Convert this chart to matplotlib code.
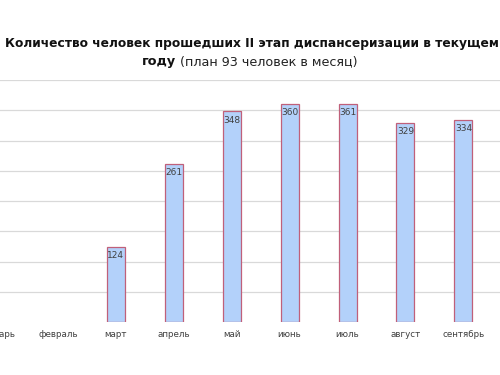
import matplotlib
matplotlib.use("Agg")
import matplotlib.pyplot as plt
import numpy as np

# ── Data ─────────────────────────────────────────────────────────────────────
months = ["январь", "февраль", "март", "апрель", "май", "июнь",
          "июль", "август", "сентябрь"]
passed = [0, 0, 124, 261, 348, 360, 361, 329, 334]
y_ticks = [50, 100, 150, 200, 250, 300, 350, 400]

BAR_FACE = "#b3d1fa"
BAR_EDGE = "#c0607a"
GRID = "#d9d9d9"
TEXT = "#404040"

plt.rcParams["font.family"] = ["DejaVu Sans"]

fig = plt.figure(figsize=(5, 3.75), dpi=100)
ax = fig.add_axes([0.0, 1 - 322 / 375, 1.0, (322 - 80) / 375])

x = np.arange(len(months))
vals = np.array(passed)
nz = vals > 0  # empty months have no bar drawn
ax.bar(x[nz], vals[nz], width=0.31, color=BAR_FACE, edgecolor=BAR_EDGE,
       linewidth=0.9, zorder=2)

for xi, v in zip(x[nz], vals[nz]):
    ax.annotate(f"{v}", (xi, v), xytext=(0, -3), textcoords="offset points",
                ha="center", va="top", fontsize=6.5, color=TEXT, zorder=3)

for yv in y_ticks:
    ax.axhline(yv, color=GRID, linewidth=0.9, zorder=1)

ax.set_ylim(0, 400)
ax.set_xlim(5 / 58.5, 5 / 58.5 + 500 / 58.5)
ax.set_xticks(x)
ax.set_xticklabels(months, fontsize=6.3, color=TEXT)
ax.tick_params(axis="x", length=0, pad=6)
ax.set_yticks([])
for s in ax.spines.values():
    s.set_visible(False)

# ── Title ────────────────────────────────────────────────────────────────────
fig.text(0.503, 1 - 44 / 375,
         "Количество человек прошедших II этап диспансеризации в текущем",
         ha="center", va="center", fontsize=8.8, fontweight="bold", color="#111111")

fig.canvas.draw()
r = fig.canvas.get_renderer()
t1 = fig.text(0, 1 - 62 / 375, "году", ha="left", va="center",
              fontsize=9.2, fontweight="bold", color="#111111")
t2 = fig.text(0, 1 - 62 / 375, " (план 93 человек в месяц)", ha="left", va="center",
              fontsize=9.2, color="#222222")
w1 = t1.get_window_extent(r).width
w2 = t2.get_window_extent(r).width
start = (500 - (w1 + w2)) / 2
t1.set_x(start / 500)
t2.set_x((start + w1) / 500)

fig.savefig("out.png", dpi=100)
